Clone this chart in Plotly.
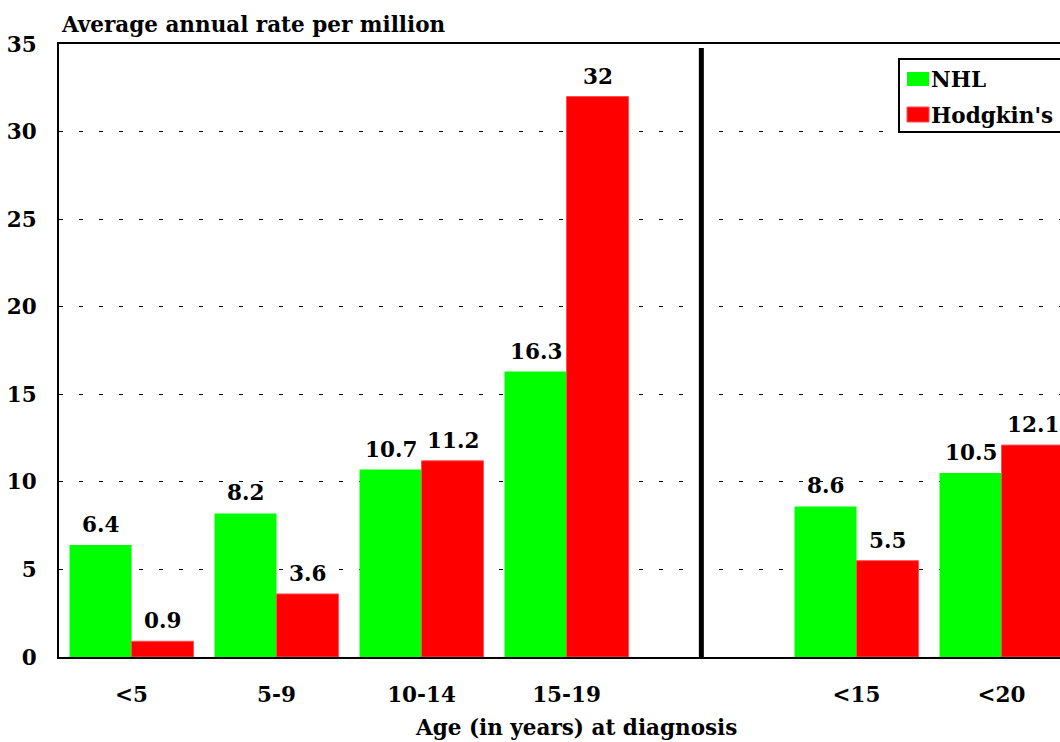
import plotly.graph_objects as go

categories = ["<5", "5-9", "10-14", "15-19", " ", "<15", "<20"]
nhl = [6.4, 8.2, 10.7, 16.3, None, 8.6, 10.5]
hodgkin = [0.9, 3.6, 11.2, 32, None, 5.5, 12.1]
series_names = ["NHL", "Hodgkin's"]
y_ticks = [0, 5, 10, 15, 20, 25, 30, 35]

FONT = "DejaVu Serif"
FS = 21.5
W, H = 1060, 742
ML, MT, MB = 59, 44, 85
PW = W - ML
PH = H - MT - MB
SLOT = 145.0

def bold(size=FS):
    return dict(family=FONT, size=size, color="black", weight="bold")

fig = go.Figure()
fig.add_trace(go.Bar(x=categories, y=nhl, name=series_names[0],
                     marker=dict(color="#00ff00", line=dict(width=0))))
fig.add_trace(go.Bar(x=categories, y=hodgkin, name=series_names[1],
                     marker=dict(color="#ff0000", line=dict(color="#ff5050", width=1))))

ann = []
for vals, sh in ((nhl, -31), (hodgkin, 31)):
    for c, v in zip(categories, vals):
        if v is None:
            continue
        ann.append(dict(x=c, y=v, xref="x", yref="y", text=f"{v:g}", showarrow=False,
                        xshift=sh, yshift=6, yanchor="bottom", font=bold()))

def px(xp):
    return (xp - ML) / PW

def py(yp):
    return (H - MB - yp) / PH

ann.append(dict(x=0, y=py(24), xref="paper", yref="paper", text="Average annual rate per million",
                showarrow=False, xanchor="left", yanchor="middle", font=bold()))
ann.append(dict(x=px(576), y=py(727), xref="paper", yref="paper", text="Age (in years) at diagnosis",
                showarrow=False, xanchor="center", yanchor="middle", font=bold()))
# legend texts
ann.append(dict(x=px(929), y=py(79), xref="paper", yref="paper", text=series_names[0],
                showarrow=False, xanchor="left", yanchor="middle", font=bold()))
ann.append(dict(x=px(929), y=py(115), xref="paper", yref="paper", text=series_names[1],
                showarrow=False, xanchor="left", yanchor="middle", font=bold()))

shapes = [
    dict(type="line", xref="x", yref="paper", x0=3.93, x1=3.93, y0=0, y1=py(48),
         line=dict(color="black", width=5)),
    dict(type="rect", xref="paper", yref="paper", x0=px(899), x1=px(1075), y0=py(59), y1=py(132),
         line=dict(color="black", width=2), fillcolor="white"),
    dict(type="rect", xref="paper", yref="paper", x0=px(907), x1=px(929), y0=py(72), y1=py(86),
         line=dict(width=0), fillcolor="#00ff00"),
    dict(type="rect", xref="paper", yref="paper", x0=px(907), x1=px(929), y0=py(107), y1=py(122),
         line=dict(color="#ff5050", width=1), fillcolor="#ff0000"),
]

fig.update_layout(
    width=W, height=H,
    margin=dict(l=ML, r=0, t=MT, b=MB, autoexpand=False),
    plot_bgcolor="white", paper_bgcolor="white",
    barmode="group", bargap=0.145, bargroupgap=0,
    showlegend=False,
    annotations=ann, shapes=shapes,
    font=bold(),
)
fig.update_xaxes(type="category", categoryorder="array", categoryarray=categories,
                 range=[-0.5, -0.5 + PW / SLOT],
                 showline=True, linecolor="black", linewidth=2, mirror=True,
                 showgrid=False, ticks="", ticklabelstandoff=17, tickfont=bold())
fig.update_yaxes(range=[0, 35], tickvals=y_ticks, ticktext=[str(t) for t in y_ticks],
                 showline=True, linecolor="black", linewidth=2, mirror=False,
                 showgrid=True, gridcolor="black", gridwidth=1, griddash="4px,16px",
                 zeroline=False, ticks="", ticklabelstandoff=16, tickfont=bold())

fig.write_html("out.html", config={"displayModeBar": False},
               post_script="document.body.style.margin='0';document.body.style.overflow='hidden';")
